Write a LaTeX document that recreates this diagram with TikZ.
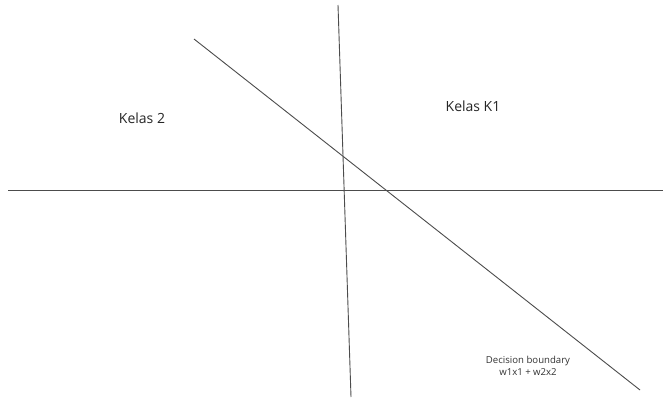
\documentclass[tikz,border=0pt]{standalone}
\usepackage{fontspec}
\setmainfont{Open Sans}
\begin{document}
\begin{tikzpicture}[x=1pt,y=-1pt,
  axis/.style={draw=black!70,line width=0.9pt},
  lbl/.style={text=black!85,inner sep=0pt,font=\fontsize{14}{16}\selectfont},
  small/.style={text=black!80,inner sep=0pt,align=center,font=\fontsize{9.6}{12.5}\selectfont}]
\useasboundingbox[fill=white] (0,0) rectangle (663,399);
\coordinate (hl) at (8,190);
\coordinate (hr) at (663,190);
\coordinate (vt) at (338,5);
\coordinate (vb) at (351,397);
\coordinate (dt) at (194,39);
\coordinate (db) at (640,390);
\draw[axis] (hl) -- (hr);
\draw[axis] (vt) -- (vb);
\draw[axis] (dt) -- (db);
\node[lbl] (k2) at (142,118) {Kelas 2};
\node[lbl] (k1) at (473,106) {Kelas K1};
\node[small] (db1) at (528,366) {Decision boundary\\w1x1 + w2x2};
\end{tikzpicture}
\end{document}
